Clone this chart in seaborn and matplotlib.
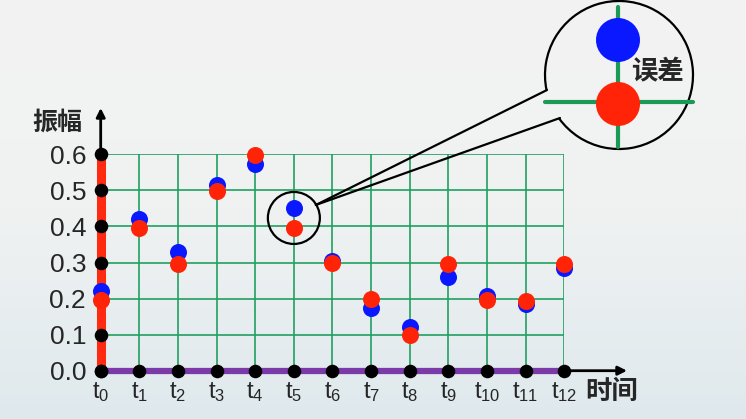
import numpy as np
import pandas as pd
import matplotlib
matplotlib.use("Agg")
import matplotlib.pyplot as plt
import seaborn as sns
from matplotlib.patches import Circle, Arc
from matplotlib.colors import LinearSegmentedColormap

# ---------------- data ----------------
time_index = list(range(13))
time_labels = [r"$t_{%d}$" % i for i in time_index]
blue_vals = [0.222, 0.421, 0.329, 0.516, 0.573, 0.451, 0.305, 0.175, 0.122, 0.260, 0.206, 0.186, 0.286]
red_vals = [0.195, 0.396, 0.297, 0.499, 0.599, 0.396, 0.300, 0.198, 0.099, 0.297, 0.195, 0.194, 0.297]
y_ticks = [0.0, 0.1, 0.2, 0.3, 0.4, 0.5, 0.6]
y_tick_labels = ["0.0", "0.1", "0.2", "0.3", "0.4", "0.5", "0.6"]
y_title = "振幅"
x_title = "时间"
error_label = "误差"

sns.set_theme(style="white")
plt.rcParams["font.family"] = ["Liberation Sans", "Noto Sans CJK SC", "DejaVu Sans"]
plt.rcParams["mathtext.fontset"] = "custom"
plt.rcParams["mathtext.rm"] = "Liberation Sans"
plt.rcParams["mathtext.it"] = "Liberation Sans"
plt.rcParams["mathtext.default"] = "regular"

W, H = 746, 419
fig = plt.figure(figsize=(W / 100, H / 100), dpi=100)

# background gradient
bg = fig.add_axes([0, 0, 1, 1], zorder=-10)
cmap = LinearSegmentedColormap.from_list("bg", [(0, "#f3f3f3"), (0.5, "#f0f2f2"), (1, "#dfe9ed")])
grad = np.linspace(0, 1, 256).reshape(-1, 1)
bg.imshow(grad, aspect="auto", cmap=cmap, extent=[0, 1, 0, 1], origin="upper")
bg.set_axis_off()

# main axes: plot region t0..t12, 0..0.6
x0p, x1p, y0p, y1p = 100.7, 564.3, 370.7, 154.3
ax = fig.add_axes([x0p / W, (H - y0p) / H, (x1p - x0p) / W, (y0p - y1p) / H])
ax.patch.set_visible(False)
ax.set_xlim(0, 12)
ax.set_ylim(0, 0.6)
for s in ax.spines.values():
    s.set_visible(False)
ax.set_xticks(time_index)
ax.set_xticklabels(time_labels, fontsize=17)
ax.set_yticks(y_ticks)
ax.set_yticklabels(y_tick_labels, fontsize=19)
ax.tick_params(axis="both", length=0)
ax.tick_params(axis="y", pad=10.5)
ax.tick_params(axis="x", pad=6.5)
ax.grid(True, color="#21a062", lw=1.2)
ax.set_axisbelow(True)

# axes lines
ax.plot([0, 12], [0, 0], color="#7a3aa8", lw=4.5, clip_on=False, zorder=3, solid_capstyle="butt")
ax.plot([0, 0], [0, 0.6], color="#ff2a10", lw=6.5, clip_on=False, zorder=3, solid_capstyle="butt")
# arrows
ax.annotate("", xy=(0, (y0p - 108) / ((y0p - y1p) / 0.6)), xytext=(0, 0.6),
            arrowprops=dict(arrowstyle="-|>", lw=2, color="black", mutation_scale=13, shrinkA=0, shrinkB=0),
            annotation_clip=False, zorder=2)
ax.annotate("", xy=((627 - x0p) / ((x1p - x0p) / 12), 0), xytext=(12, 0),
            arrowprops=dict(arrowstyle="-|>", lw=2, color="black", mutation_scale=13, shrinkA=0, shrinkB=0),
            annotation_clip=False, zorder=2)

# black tick dots
sns.scatterplot(x=time_index, y=[0] * len(time_index), color="black", s=95, linewidth=0,
                ax=ax, clip_on=False, zorder=4)
sns.scatterplot(x=[0] * len(y_ticks), y=y_ticks, color="black", s=95, linewidth=0,
                ax=ax, clip_on=False, zorder=4)

df = pd.DataFrame({"t": time_index, "blue": blue_vals, "red": red_vals})
sns.scatterplot(data=df, x="t", y="blue", color="#0a18ff", s=150, linewidth=0, ax=ax,
                clip_on=False, zorder=5)
sns.scatterplot(data=df, x="t", y="red", color="#ff2408", s=150, linewidth=0, ax=ax,
                clip_on=False, zorder=6)
ax.set_xlabel("")
ax.set_ylabel("")

# titles
cjk = ["Noto Sans CJK SC", "DejaVu Sans"]
fig.text(57 / W, 1 - 123 / H, y_title, ha="center", va="center", fontsize=18,
         fontweight="bold", family=cjk)
fig.text(612 / W, 1 - 391 / H, x_title, ha="center", va="center", fontsize=19,
         fontweight="bold", family=cjk)

# magnifier overlay (pixel coordinates, y down)
ov = fig.add_axes([0, 0, 1, 1], zorder=5)
ov.set_xlim(0, W)
ov.set_ylim(H, 0)
ov.set_axis_off()
ov.patch.set_visible(False)

fig.canvas.draw()
cx, cy = ax.transData.transform((5, (blue_vals[5] + red_vals[5]) / 2))
cy = H - cy
ov.add_patch(Circle((cx, cy), 26, fill=False, ec="black", lw=1.6))
bx, by, br = 619, 75, 74
ov.add_patch(Arc((bx, by), 2 * br, 2 * br, theta1=168.2, theta2=503.9, ec="black", lw=1.6))
ov.plot([cx + 22, 547], [cy - 13, 90], color="black", lw=1.6)
ov.plot([cx + 22, 560], [cy - 13, 118], color="black", lw=1.6)
ov.plot([545, 693], [101.7, 101.7], color="#1a9a55", lw=3, zorder=1)
ov.plot([618, 618], [7, 147], color="#1a9a55", lw=3, zorder=1)
ov.add_patch(Circle((618, 40), 22, color="#0a18ff", lw=0, zorder=3))
ov.add_patch(Circle((618, 104), 22, color="#ff2408", lw=0, zorder=3))
ov.text(657, 72, error_label, ha="center", va="center", fontsize=19, fontweight="bold",
        family=cjk, zorder=4)

fig.savefig("out.png", dpi=100)
